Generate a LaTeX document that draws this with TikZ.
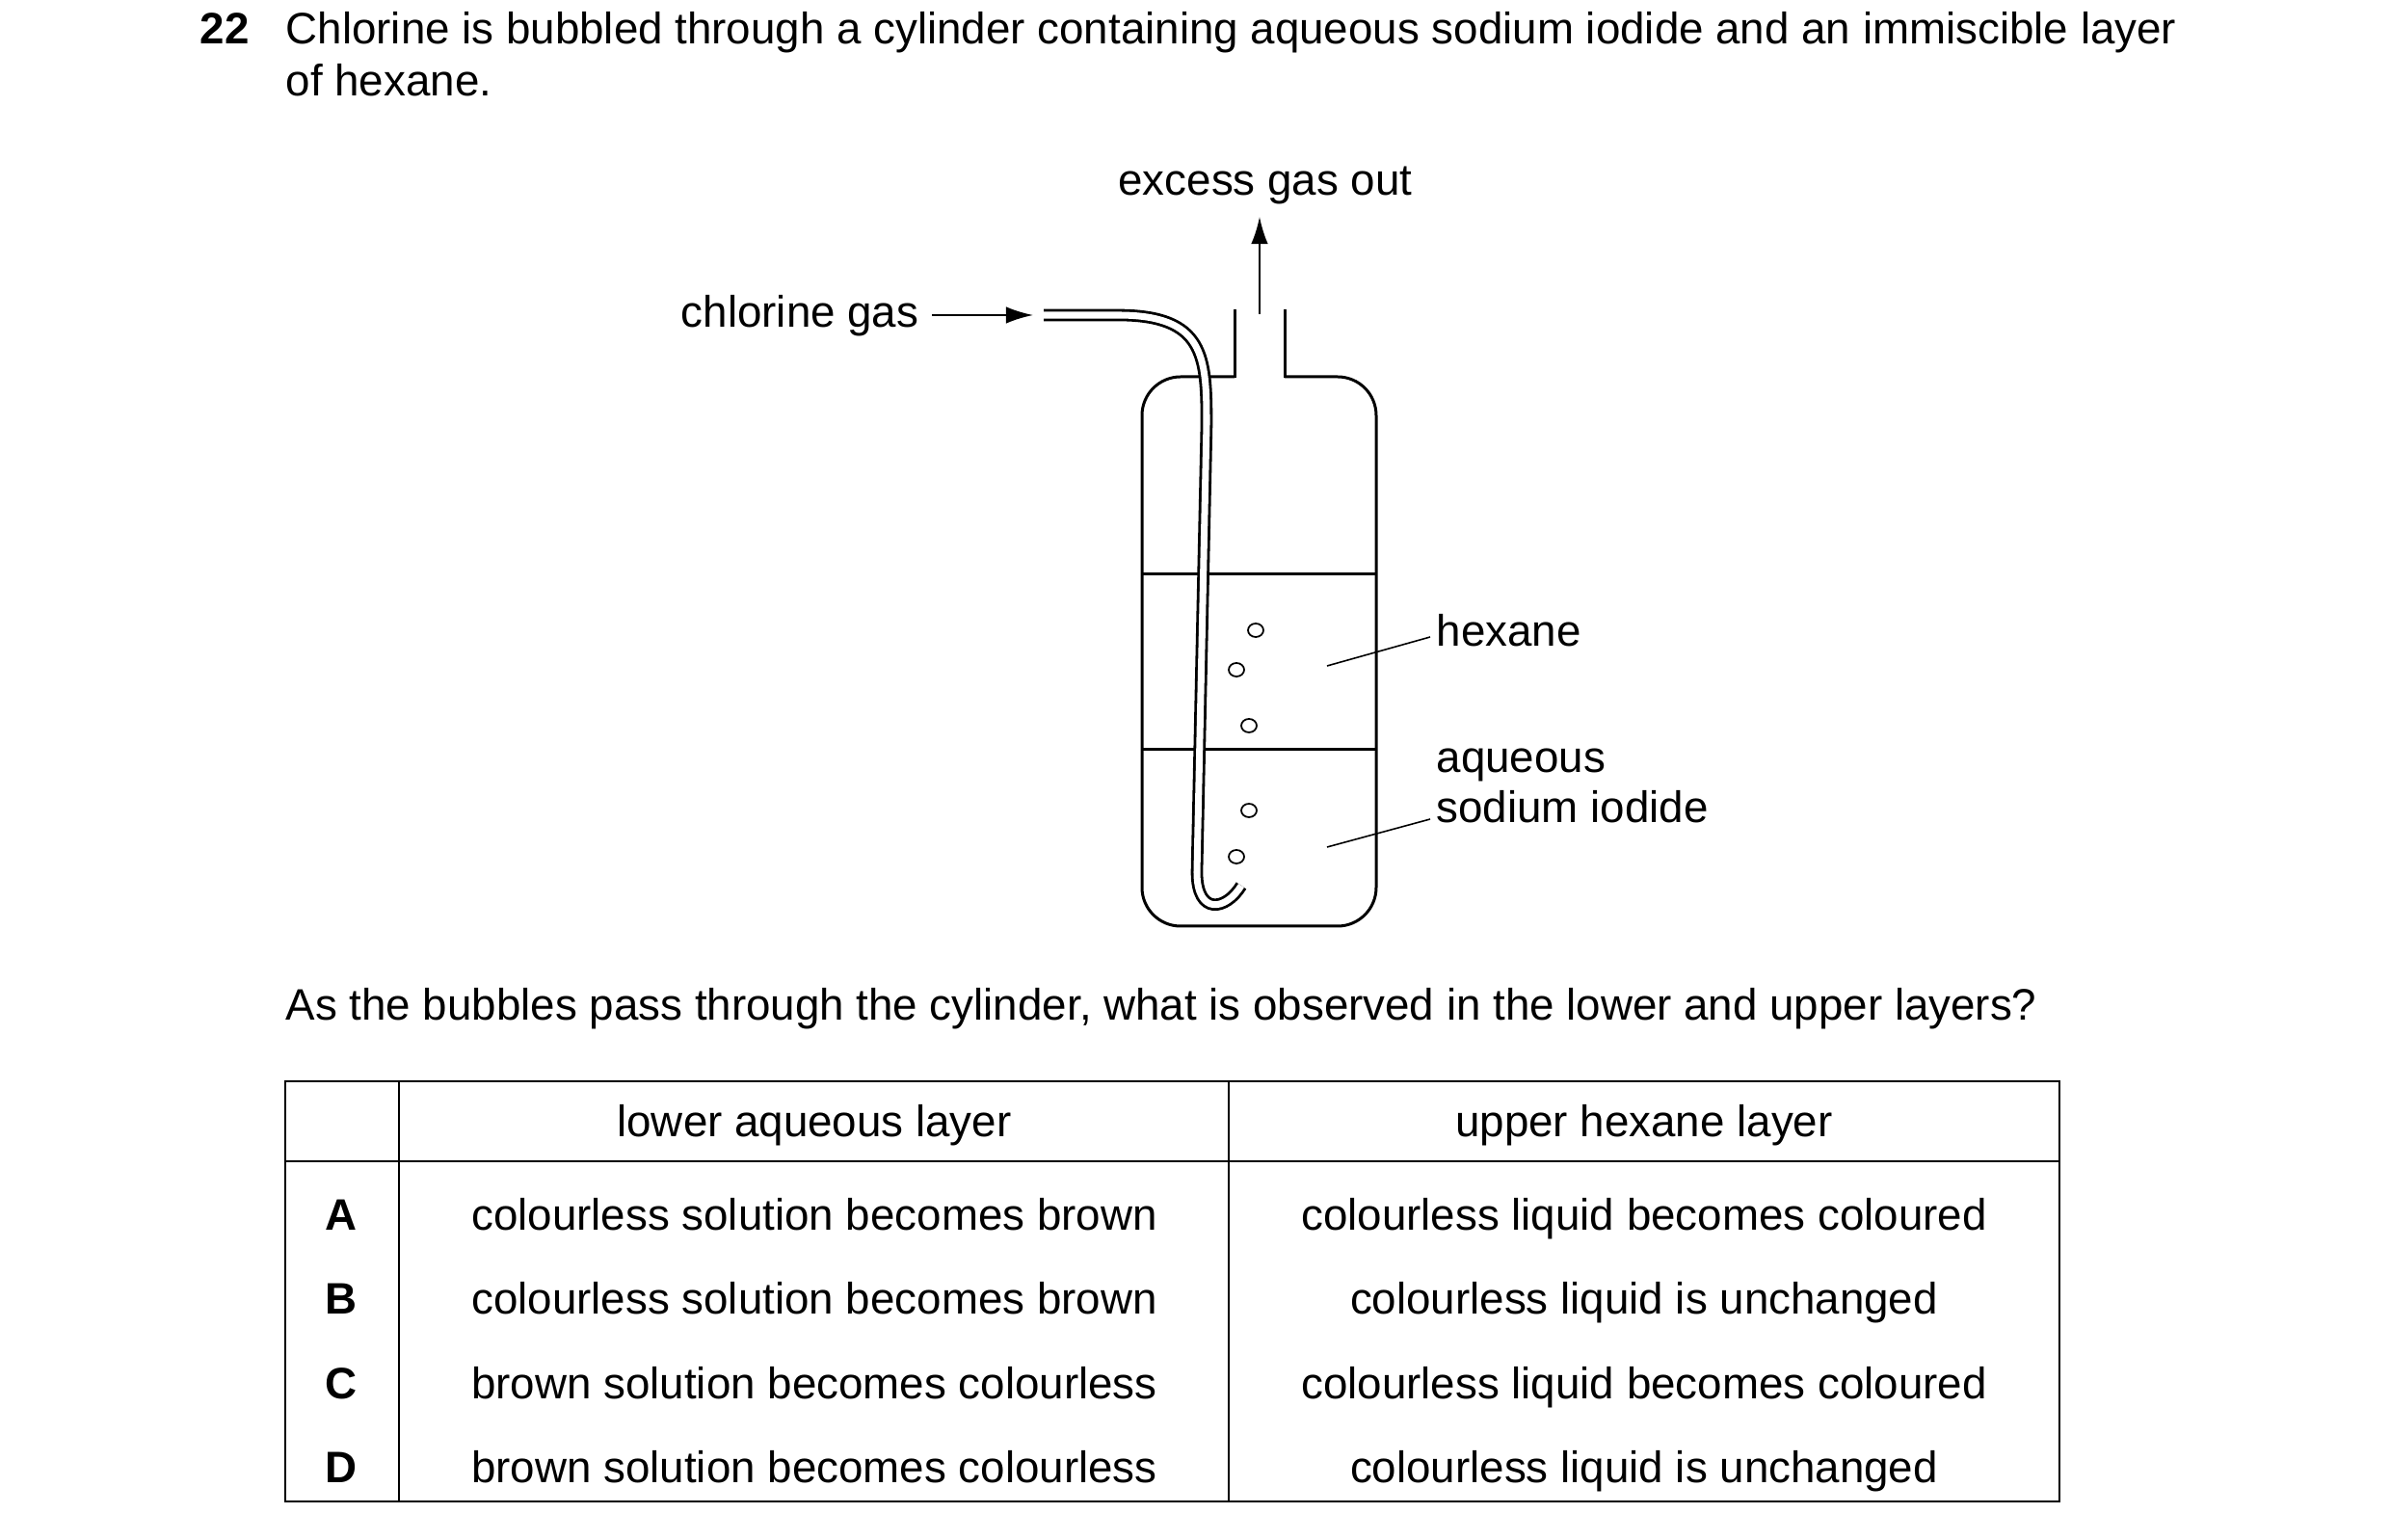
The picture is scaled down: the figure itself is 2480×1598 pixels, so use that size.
\documentclass[tikz,border=0pt]{standalone}
\usepackage{fontspec}
\setmainfont{Liberation Sans}
\usetikzlibrary{arrows.meta}
\begin{document}
\begin{tikzpicture}[x=0.01cm,y=-0.01cm,
  txt/.style={inner sep=0pt,anchor=base,font=\fontsize{13}{15}\selectfont},
  thick line/.style={line width=0.85pt},
  thin line/.style={line width=0.45pt},
  tip/.style={-{Latex[length=8pt,width=5pt]},line width=0.6pt}]
\useasboundingbox (0,0) rectangle (2480,1598);
% question
\node[txt,anchor=base west,font=\fontsize{13}{15}\selectfont\bfseries] (num) at (207,46) {22};
\node[txt,anchor=base west] (q1) at (296,46) {Chlorine is bubbled through a cylinder containing aqueous sodium iodide and an immiscible layer};
\node[txt,anchor=base west] (q2) at (296,100) {of hexane.};
% labels
\node[txt] (excess) at (1313,203) {excess gas out};
\node[txt,anchor=base east] (cl) at (954,340) {chlorine gas};
\node[txt,anchor=base west] (hex) at (1490,671) {hexane};
\node[txt,anchor=base west] (aq) at (1490,802) {aqueous};
\node[txt,anchor=base west] (sod) at (1490,854) {sodium iodide};
% bottle
\draw[thick line,rounded corners=0.4cm] (1281,391) -- (1185,391) -- (1185,961) -- (1428,961) -- (1428,391) -- (1333,391);
\draw[thick line] (1281,392) -- (1281,321);
\draw[thick line] (1333,392) -- (1333,321);
\draw[thick line] (1185,596) -- (1428,596);
\draw[thick line] (1185,778) -- (1428,778);
% tube
\draw[line width=0.8pt,double=white,double distance=2pt]
  (1083,327) -- (1160,327) .. controls (1250,327) and (1252,370) .. (1252,440)
  -- (1242,905) .. controls (1242,950) and (1272,945) .. (1288,919);
% bubbles
\foreach \p [count=\i] in {(1303,654),(1283,695),(1296,753),(1296,841),(1283,889)}
  \draw[line width=0.5pt] \p circle[x radius=8,y radius=7];
% arrows
\coordinate (inl) at (1072,327);
\coordinate (outb) at (1307,326);
\draw[tip] (967,327) -- (inl);
\draw[tip] (outb) -- (1307,225);
% leaders
\coordinate (h1) at (1377,691);
\coordinate (a1) at (1377,879);
\draw[thin line] (h1) -- (1484,661);
\draw[thin line] (a1) -- (1484,850);
% second question
\node[txt,anchor=base west] (q3) at (296,1059) {As the bubbles pass through the cylinder, what is observed in the lower and upper layers?};
% table
\draw[line width=0.7pt] (296,1122) rectangle (2137,1558);
\draw[line width=0.7pt] (296,1205) -- (2137,1205);
\draw[line width=0.7pt] (414,1122) -- (414,1558);
\draw[line width=0.7pt] (1275,1122) -- (1275,1558);
\node[txt] (h1t) at (845,1180) {lower aqueous layer};
\node[txt] (h2t) at (1706,1180) {upper hexane layer};
\foreach \y/\l/\a/\b in {1277/A/colourless solution becomes brown/colourless liquid becomes coloured,
  1364/B/colourless solution becomes brown/colourless liquid is unchanged,
  1452/C/brown solution becomes colourless/colourless liquid becomes coloured,
  1539/D/brown solution becomes colourless/colourless liquid is unchanged}{
  \node[txt,font=\fontsize{13}{15}\selectfont\bfseries] at (354,\y) {\l};
  \node[txt] at (845,\y) {\a};
  \node[txt] at (1706,\y) {\b};
}
\end{tikzpicture}
\end{document}
